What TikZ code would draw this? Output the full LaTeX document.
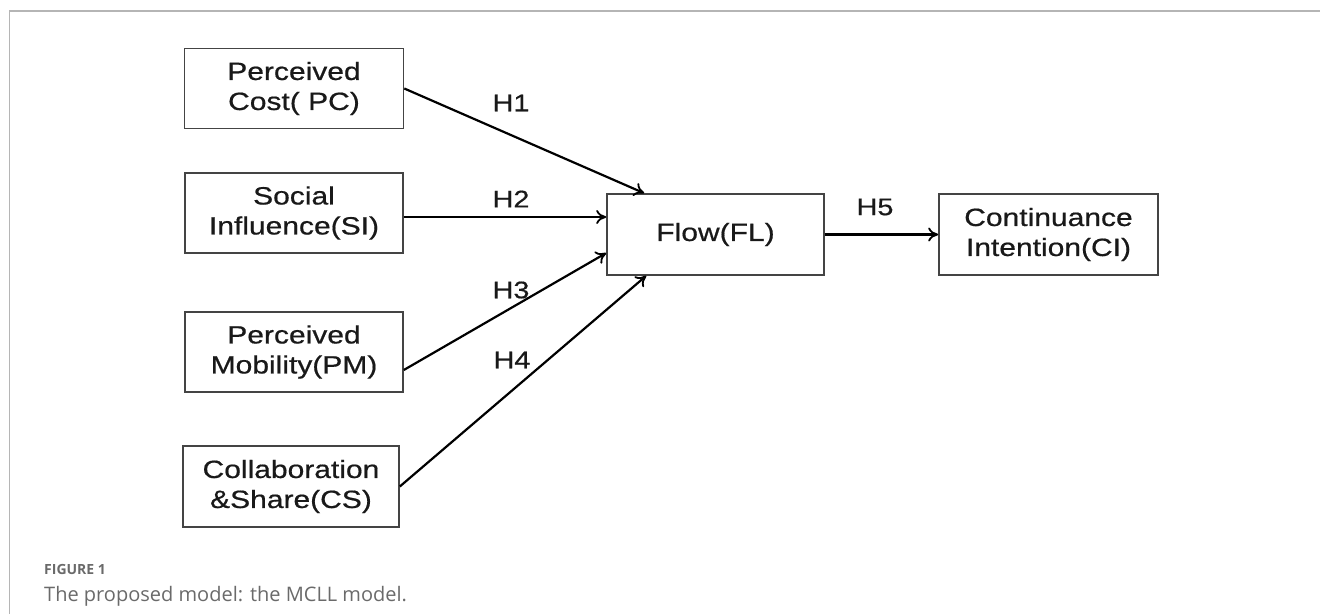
\documentclass[tikz,border=0pt]{standalone}
\usepackage{fontspec}
\usetikzlibrary{arrows.meta,calc}
\newfontfamily\diagfont[FakeStretch=1.2,FakeBold=0.6]{Liberation Sans}
\newfontfamily\capfont{Open Sans}
\definecolor{framegray}{HTML}{B5B5B5}
\definecolor{boxgray}{HTML}{444444}
\definecolor{captiongray}{HTML}{6A6A6A}
\tikzset{
  box/.style={draw=boxgray, line width=1.6pt, align=center, inner sep=0pt,
    font=\diagfont\fontsize{25}{30}\selectfont, text=black!90},
  link/.style={draw=black, line width=2.2pt, -{To[length=10pt,width=14pt,line width=1.8pt]}},
  hyp/.style={font=\diagfont\fontsize{24}{28}\selectfont, text=black!90, inner sep=0pt},
  frameline/.style={draw=framegray, line width=1.6pt}
}
\begin{document}
\begin{tikzpicture}[x=1pt,y=-1pt]
\useasboundingbox (0,0) rectangle (1320,614);
% frame
\coordinate (ftl) at (9.5,11);
\coordinate (ftr) at (1320,11);
\coordinate (fbl) at (9.5,614);
\draw[frameline] (fbl) -- (ftl) -- (ftr);
% boxes
\node[box, minimum width=219pt, minimum height=80pt] (pc) at (294,88.5) {Perceived\\Cost( PC)};
\node[box, minimum width=218pt, minimum height=80pt] (si) at (294,213) {Social\\Influence(SI)};
\node[box, minimum width=218pt, minimum height=80pt] (pm) at (294,352) {Perceived\\Mobility(PM)};
\node[box, minimum width=216pt, minimum height=81pt] (cs) at (291,486.5) {Collaboration\\\&Share(CS)};
\node[box, minimum width=217pt, minimum height=81pt] (fl) at (715.5,234.5) {Flow(FL)};
\node[box, minimum width=219pt, minimum height=81pt] (ci) at (1048.5,234.5) {Continuance\\Intention(CI)};
% connectors
\draw[link] (pc.east) -- ([xshift=38pt]fl.north west);
\draw[link] ([yshift=-4pt]si.east) -- ([yshift=-4pt]si.east -| fl.west);
\draw[link] ([yshift=-18pt]pm.east) -- ([yshift=-18.5pt]fl.west);
\draw[link] (cs.east) -- ([xshift=40pt]fl.south west);
\draw[link] (fl.east) -- (ci.west);
% labels
\node[hyp] (h1) at (511,103) {H1};
\node[hyp] (h2) at (511,199) {H2};
\node[hyp] (h3) at (511,290) {H3};
\node[hyp] (h4) at (512,360) {H4};
\node[hyp] (h5) at (875,207) {H5};
% caption
\node[anchor=west, inner sep=0pt, text=captiongray, font=\capfont\fontsize{14}{17}\selectfont\bfseries] (fig) at (44,569) {FIGURE 1};
\node[anchor=west, inner sep=0pt, text=captiongray, font=\capfont\fontsize{20}{24}\selectfont] (cap) at (44,596) {The proposed model: the MCLL model.};
\end{tikzpicture}
\end{document}
